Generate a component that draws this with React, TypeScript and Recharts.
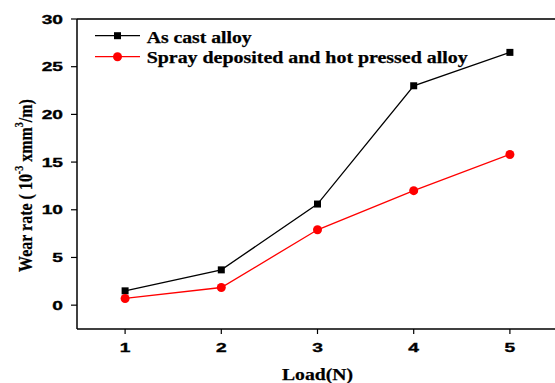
import React from 'react';
import { LineChart, Line, XAxis, YAxis, Legend, ReferenceLine } from 'recharts';

const loads = [1, 2, 3, 4, 5];
const asCast = [1.5, 3.7, 10.6, 23.0, 26.5];
const sprayed = [0.7, 1.85, 7.9, 12.0, 15.8];
const yTicks = [0, 5, 10, 15, 20, 25, 30];
const seriesNames = ['As cast alloy', 'Spray deposited and hot pressed alloy'];
const xTitle = 'Load(N)';
const yMax = 30;

const data = loads.map((l, i) => ({ load: l, asCast: asCast[i], sprayed: sprayed[i] }));

const SERIF = '"Liberation Serif", "Times New Roman", serif';
const SANS = '"Liberation Sans", Arial, sans-serif';

const XTick = (props: any) => {
  const { x, y, payload } = props;
  return (
    <g transform={`translate(${x},${y}) scale(1.5,1)`}>
      <text x={0} y={0} dy="0.71em" textAnchor="middle" fontFamily={SANS} fontWeight="bold" fontSize={12.8}
        fill="#000" stroke="#000" strokeWidth={0.35}>
        {payload.value}
      </text>
    </g>
  );
};

const YTick = (props: any) => {
  const { x, y, payload } = props;
  return (
    <g transform={`translate(${x},${y}) scale(1.5,1)`}>
      <text x={0} y={0} dy="0.36em" textAnchor="end" fontFamily={SANS} fontWeight="bold" fontSize={12.8}
        fill="#000" stroke="#000" strokeWidth={0.35}>
        {payload.value}
      </text>
    </g>
  );
};

const SquareDot = (props: any) => {
  const { cx, cy, index } = props;
  if (cx == null || cy == null) return <g key={`s${index}`} />;
  return <rect key={`s${index}`} x={cx - 3.5} y={cy - 3.5} width={7} height={7} fill="#000" />;
};

const CircleDot = (props: any) => {
  const { cx, cy, index } = props;
  if (cx == null || cy == null) return <g key={`c${index}`} />;
  return <circle key={`c${index}`} cx={cx} cy={cy} r={4.5} fill="#ff0000" />;
};

const LegendContent = (props: any) => {
  const payload = props.payload || [];
  const widths = [105, 321];
  return (
    <svg width={555} height={70} style={{ display: 'block', overflow: 'visible' }}>
      {payload.map((p: any, i: number) => {
        const ly = i === 0 ? 35.7 : 56.7;
        const ty = i === 0 ? 42.7 : 62.7;
        const col = p.color;
        return (
          <g key={i}>
            <line x1={95} x2={140} y1={ly} y2={ly} stroke={col} strokeWidth={1.3} />
            {i === 0 ? (
              <rect x={114} y={ly - 3.5} width={7} height={7} fill={col} />
            ) : (
              <circle cx={117.5} cy={ly} r={4.5} fill={col} />
            )}
            <text x={146.7} y={ty} fontFamily={SERIF} fontWeight="bold" fontSize={16.8} fill="#000"
              stroke="#000" strokeWidth={0.25}
              textLength={widths[i]} lengthAdjust="spacingAndGlyphs">
              {p.value}
            </text>
          </g>
        );
      })}
    </svg>
  );
};

const XLabel = (props: any) => {
  const vb = props.viewBox || {};
  const cx = vb.x + vb.width / 2;
  return (
    <text x={cx} y={vb.y + 51} textAnchor="middle" fontFamily={SERIF} fontWeight="bold" fontSize={17.5}
      fill="#000" stroke="#000" strokeWidth={0.25} textLength={71} lengthAdjust="spacingAndGlyphs">
      {xTitle}
    </text>
  );
};

const YLabel = (props: any) => {
  const vb = props.viewBox || {};
  const cy = vb.y + vb.height / 2 + 11.5;
  return (
    <text transform={`translate(31.5,${cy}) scale(1.2,1) rotate(-90)`} x={0} y={0} textAnchor="middle"
      fontFamily={SERIF} fontWeight="bold" fontSize={16} fill="#000" stroke="#000" strokeWidth={0.2}>
      Wear rate ( 10<tspan dy={-7} fontSize={10}>-3</tspan><tspan dy={7}> xmm</tspan>
      <tspan dy={-7} fontSize={10}>3</tspan><tspan dy={7}>/m)</tspan>
    </text>
  );
};

export default function App() {
  return (
    <div style={{ position: 'absolute', left: 0, top: 0, width: 555, height: 383, overflow: 'hidden', background: '#fff' }}>
      <div style={{ position: 'absolute', left: 77, top: 18, width: 480, height: 2, background: '#3a3a3a' }} />
      <LineChart width={560} height={383} data={data} margin={{ top: 19, right: 2, bottom: 0, left: 0 }}
        style={{ position: 'absolute', left: 0, top: 0 }}>
        <XAxis
          dataKey="load"
          type="number"
          domain={[0.5, 5.5]}
          ticks={loads}
          height={54}
          tickSize={5}
          tickMargin={8.5}
          axisLine={{ stroke: '#000', strokeWidth: 1.5 }}
          tickLine={{ stroke: '#000', strokeWidth: 1.2 }}
          tick={<XTick />}
          label={{ content: <XLabel /> }}
        />
        <YAxis
          type="number"
          domain={[-2.5, 30]}
          ticks={yTicks}
          width={77}
          tickSize={6}
          tickMargin={8}
          axisLine={{ stroke: '#000', strokeWidth: 1.5 }}
          tickLine={{ stroke: '#000', strokeWidth: 1.2 }}
          tick={<YTick />}
          label={{ content: <YLabel /> }}
        />
        <ReferenceLine y={yMax} stroke="#3a3a3a" strokeWidth={1.5} ifOverflow="visible" />
        <Legend
          layout="horizontal"
          verticalAlign="middle"
          wrapperStyle={{ left: 0, top: 0, width: 555, height: 70 }}
          content={<LegendContent />}
        />
        <Line
          dataKey="asCast"
          name={seriesNames[0]}
          stroke="#000"
          strokeWidth={1.3}
          dot={SquareDot}
          activeDot={false}
          isAnimationActive={false}
        />
        <Line
          dataKey="sprayed"
          name={seriesNames[1]}
          stroke="#ff0000"
          strokeWidth={1.3}
          dot={CircleDot}
          activeDot={false}
          isAnimationActive={false}
        />
      </LineChart>
    </div>
  );
}
